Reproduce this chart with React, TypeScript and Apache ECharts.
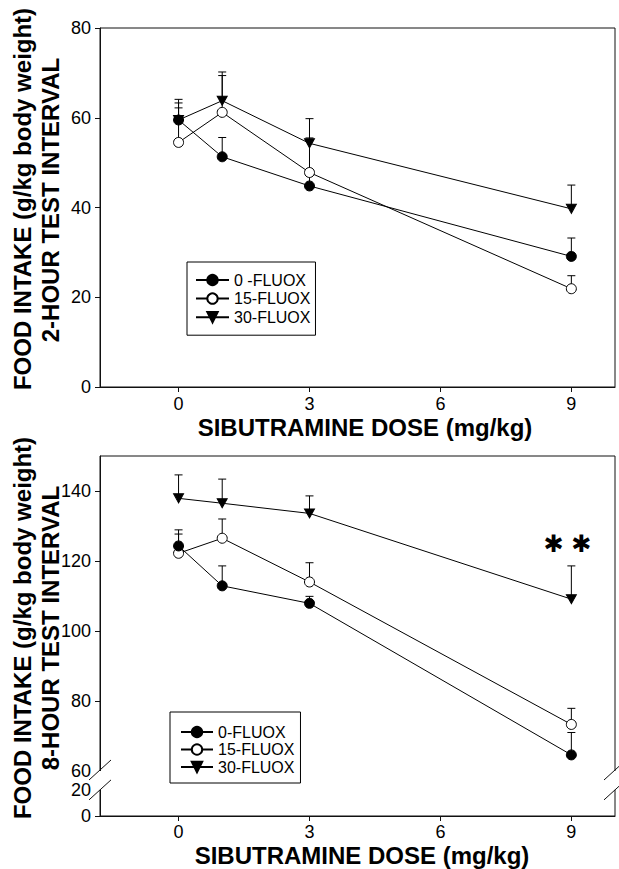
import React, { useEffect, useRef } from "react";
import * as echarts from "echarts";

// Sibutramine doses (mg/kg) and the x-axis ticks
const DOSES = [0, 1, 3, 9];
const X_TICKS = [0, 3, 6, 9];

// 2-hour test interval: mean food intake (g/kg body weight) and SEM
const TWO_HOUR_NAMES = ["0 -FLUOX", "15-FLUOX", "30-FLUOX"];
const TWO_HOUR_0 = [59.5, 51.3, 44.8, 29.1];
const TWO_HOUR_0_SEM = [4.6, 4.3, 3.0, 4.1];
const TWO_HOUR_15 = [54.5, 61.2, 47.8, 21.9];
const TWO_HOUR_15_SEM = [7.7, 8.2, 7.7, 2.9];
const TWO_HOUR_30 = [59.5, 63.8, 54.3, 39.7];
const TWO_HOUR_30_SEM = [3.8, 6.4, 5.5, 5.3];
const TWO_HOUR_Y_TICKS = [0, 20, 40, 60, 80];

// 8-hour test interval
const EIGHT_HOUR_NAMES = ["0-FLUOX", "15-FLUOX", "30-FLUOX"];
const EIGHT_HOUR_0 = [124.3, 112.9, 107.9, 64.6];
const EIGHT_HOUR_0_SEM = [4.6, 5.7, 2.0, 6.4];
const EIGHT_HOUR_15 = [122.2, 126.5, 114.0, 73.3];
const EIGHT_HOUR_15_SEM = [5.5, 5.5, 5.5, 4.6];
const EIGHT_HOUR_30 = [137.9, 136.5, 133.6, 109.1];
const EIGHT_HOUR_30_SEM = [6.7, 6.9, 5.0, 9.5];
const EIGHT_HOUR_Y_TICKS = [60, 80, 100, 120, 140];
const EIGHT_HOUR_LOW_LABELS = ["20", "0"];
const SIGNIFICANCE_MARK = "✱ ✱";

// Broken 8-hour axis: everything below 60 is squeezed into the strip under the break
const AXIS2_MAX = 150;
const AXIS2_MIN = 47.14;
const LOW_LABEL_POS = [54.6, AXIS2_MIN];

const FONT = '"Liberation Sans", Arial, Helvetica, sans-serif';
const INK = "#111";

const MARKERS = [
  { symbol: "circle", rotate: 0, fill: "#000" },
  { symbol: "circle", rotate: 0, fill: "#fff" },
  { symbol: "triangle", rotate: 180, fill: "#000" },
];

function lineSeries(name: string, means: number[], idx: number, k: number) {
  const m = MARKERS[k];
  return {
    type: "line",
    name,
    xAxisIndex: idx,
    yAxisIndex: idx,
    data: DOSES.map((d, i) => [d, means[i]]),
    symbol: m.symbol,
    symbolRotate: m.rotate,
    symbolSize: m.symbol === "triangle" ? [10, 9] : 10,
    itemStyle: { color: m.fill, borderColor: "#000", borderWidth: 1 },
    lineStyle: { color: "#000", width: 1 },
    emphasis: { disabled: true },
    silent: true,
    z: 3,
  };
}

function errorSeries(means: number[], sem: number[], idx: number) {
  return {
    type: "custom",
    xAxisIndex: idx,
    yAxisIndex: idx,
    silent: true,
    z: 2,
    data: DOSES.map((d, i) => [d, means[i], means[i] + sem[i]]),
    renderItem: (_p: any, api: any) => {
      const base = api.coord([api.value(0), api.value(1)]);
      const top = api.coord([api.value(0), api.value(2)]);
      return {
        type: "group",
        children: [
          {
            type: "line",
            shape: { x1: base[0], y1: base[1], x2: top[0], y2: top[1] },
            style: { stroke: "#000", lineWidth: 1 },
          },
          {
            type: "line",
            shape: { x1: top[0] - 4, y1: top[1], x2: top[0] + 4, y2: top[1] },
            style: { stroke: "#000", lineWidth: 1 },
          },
        ],
      };
    },
  };
}

function xAxis(gridIndex: number, margin: number) {
  return {
    type: "value",
    gridIndex,
    min: -1.8,
    max: 10,
    axisLine: { show: true, onZero: false, lineStyle: { color: INK, width: 1 } },
    axisTick: { show: true, customValues: X_TICKS, length: 5, lineStyle: { color: INK } },
    axisLabel: { customValues: X_TICKS, fontSize: 18, color: "#000", fontFamily: FONT, margin },
    splitLine: { show: false },
  };
}

function legend(names: string[], left: number, top: number, gap: number, padding: number[], width: number) {
  return {
    data: names,
    orient: "vertical",
    left,
    top,
    padding,
    itemGap: gap,
    itemWidth: width,
    itemHeight: 13,
    borderColor: "#000",
    borderWidth: 1,
    borderRadius: 0,
    backgroundColor: "#fff",
    selectedMode: false,
    textStyle: { fontSize: 16, color: "#000", fontFamily: FONT, lineHeight: 16 },
  };
}

export default function App() {
  const ref = useRef<HTMLDivElement>(null);

  useEffect(() => {
    if (!ref.current) return;
    const chart = echarts.init(ref.current, undefined, { renderer: "svg" });

    chart.setOption({
      animation: false,
      backgroundColor: "#fff",
      grid: [
        { left: 100, top: 28, right: 4, height: 359, show: true, borderColor: INK, borderWidth: 1, backgroundColor: "transparent" },
        { left: 100, top: 456, right: 4, height: 360, show: true, borderColor: INK, borderWidth: 1, backgroundColor: "transparent" },
      ],
      xAxis: [xAxis(0, 8), xAxis(1, 7)],
      yAxis: [
        {
          type: "value",
          gridIndex: 0,
          min: 0,
          max: 80,
          interval: 20,
          axisLine: { show: true, onZero: false, lineStyle: { color: INK } },
          axisTick: { show: true, customValues: TWO_HOUR_Y_TICKS, length: 5, lineStyle: { color: INK } },
          axisLabel: { customValues: TWO_HOUR_Y_TICKS, fontSize: 18, color: "#000", fontFamily: FONT, margin: 9 },
          splitLine: { show: false },
        },
        {
          type: "value",
          gridIndex: 1,
          min: AXIS2_MIN,
          max: AXIS2_MAX,
          axisLine: { show: true, onZero: false, lineStyle: { color: INK } },
          axisTick: {
            show: true,
            customValues: [AXIS2_MIN, ...EIGHT_HOUR_Y_TICKS.filter((v) => v > 60)],
            length: 5,
            lineStyle: { color: INK },
          },
          axisLabel: {
            customValues: [...LOW_LABEL_POS, ...EIGHT_HOUR_Y_TICKS],
            showMinLabel: true,
            showMaxLabel: true,
            fontSize: 18,
            color: "#000",
            fontFamily: FONT,
            margin: 9,
            formatter: (v: number) => {
              const k = LOW_LABEL_POS.findIndex((p) => Math.abs(p - v) < 0.01);
              return k >= 0 ? EIGHT_HOUR_LOW_LABELS[k] : String(Math.round(v));
            },
          },
          splitLine: { show: false },
        },
      ],
      legend: [
        legend(TWO_HOUR_NAMES, 187, 262, 2.6, [10, 5, 10, 8], 33),
        legend(EIGHT_HOUR_NAMES, 170, 712, 1.5, [12, 6, 8, 10], 32),
      ],
      series: [
        errorSeries(TWO_HOUR_30, TWO_HOUR_30_SEM, 0),
        errorSeries(TWO_HOUR_15, TWO_HOUR_15_SEM, 0),
        errorSeries(TWO_HOUR_0, TWO_HOUR_0_SEM, 0),
        lineSeries(TWO_HOUR_NAMES[2], TWO_HOUR_30, 0, 2),
        lineSeries(TWO_HOUR_NAMES[1], TWO_HOUR_15, 0, 1),
        lineSeries(TWO_HOUR_NAMES[0], TWO_HOUR_0, 0, 0),
        errorSeries(EIGHT_HOUR_30, EIGHT_HOUR_30_SEM, 1),
        errorSeries(EIGHT_HOUR_15, EIGHT_HOUR_15_SEM, 1),
        errorSeries(EIGHT_HOUR_0, EIGHT_HOUR_0_SEM, 1),
        lineSeries(EIGHT_HOUR_NAMES[2], EIGHT_HOUR_30, 1, 2),
        lineSeries(EIGHT_HOUR_NAMES[1], EIGHT_HOUR_15, 1, 1),
        lineSeries(EIGHT_HOUR_NAMES[0], EIGHT_HOUR_0, 1, 0),
      ],
    });

    // Pixel positions for the axis break and the significance mark
    const px = (x: number, y: number) => chart.convertToPixel({ gridIndex: 1 } as any, [x, y]) as number[];
    const leftX = px(-1.8, 60)[0];
    const rightX = px(10, 60)[0];
    const yHi = px(0, 60)[1];
    const yLo = px(0, LOW_LABEL_POS[0])[1];
    const starAt = px(9, EIGHT_HOUR_30[3] + EIGHT_HOUR_30_SEM[3]);

    const slash = (cx: number, cy: number) => ({
      type: "line",
      shape: { x1: cx - 11, y1: cy + 10, x2: cx + 11, y2: cy - 10 },
      style: { stroke: INK, lineWidth: 1 },
      z: 20,
    });
    const gap = (cx: number) => ({
      type: "rect",
      shape: { x: cx - 2, y: yHi, width: 4, height: yLo - yHi },
      style: { fill: "#fff" },
      z: 19,
    });
    const title = (text: string, x: number, y: number, size: number, rot = 0) => ({
      type: "text",
      x,
      y,
      rotation: rot,
      z: 20,
      style: {
        text,
        fontSize: size,
        fontWeight: "bold",
        fontFamily: FONT,
        fill: "#000",
        align: "center",
        verticalAlign: "middle",
      },
    });

    chart.setOption({
      graphic: [
        gap(leftX),
        gap(rightX),
        slash(leftX, yHi - 1),
        slash(leftX, yLo),
        slash(rightX, yHi - 1),
        slash(rightX, yLo),
        {
          type: "text",
          x: starAt[0] - 4,
          y: starAt[1] - 22,
          z: 20,
          style: {
            text: SIGNIFICANCE_MARK,
            fontSize: 24,
            fontFamily: '"DejaVu Sans", sans-serif',
            fill: "#000",
            align: "center",
            verticalAlign: "middle",
          },
        },
        title("FOOD INTAKE (g/kg body weight)", 22, 199, 24, Math.PI / 2),
        title("2-HOUR TEST INTERVAL", 50, 200, 24, Math.PI / 2),
        title("SIBUTRAMINE DOSE (mg/kg)", 365, 427, 24),
        title("FOOD INTAKE (g/kg body weight)", 22, 628, 24, Math.PI / 2),
        title("8-HOUR TEST INTERVAL", 50, 628, 24, Math.PI / 2),
        title("SIBUTRAMINE DOSE (mg/kg)", 362, 855, 24),
      ],
    });

    return () => chart.dispose();
  }, []);

  return (
    <div
      ref={ref}
      style={{ position: "absolute", left: 0, top: 0, width: 619, height: 869, background: "#fff" }}
    />
  );
}
